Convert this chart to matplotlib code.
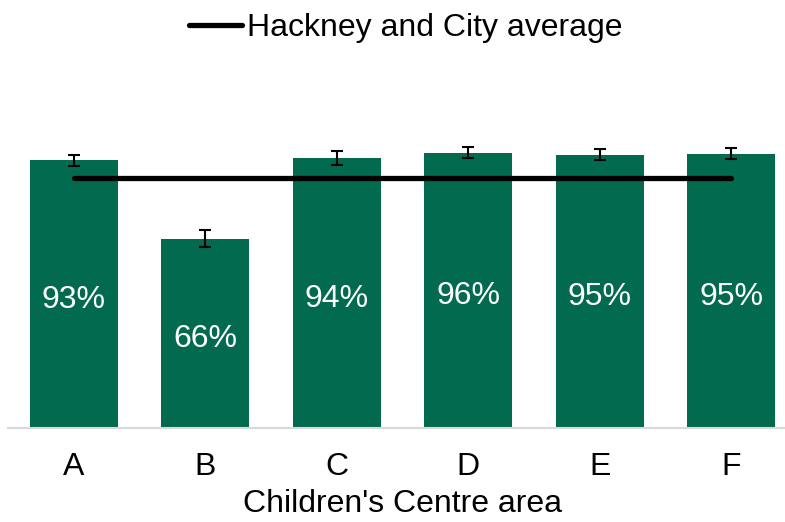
import matplotlib
matplotlib.use("Agg")
import matplotlib.pyplot as plt
from matplotlib.lines import Line2D

plt.rcParams['font.family'] = ['Liberation Sans', 'DejaVu Sans']

categories = ['A', 'B', 'C', 'D', 'E', 'F']
values = [93.0, 65.7, 93.8, 95.6, 94.9, 95.2]
labels = ['93%', '66%', '94%', '96%', '95%', '95%']
errors = [1.9, 2.9, 2.4, 1.8, 1.9, 1.9]
average = 86.7
average_label = 'Hackney and City average'
xlabel = "Children's Centre area"

W, H = 785, 522
FS = 23
fig = plt.figure(figsize=(W / 100, H / 100), dpi=100)
left_px, right_px = 8, 797
base_px = 428
px_per_unit = 2.88
ymax = 120
ax = fig.add_axes([left_px / W, (H - base_px) / H, (right_px - left_px) / W, ymax * px_per_unit / H])

green = '#026A4F'
x = list(range(len(categories)))
ax.bar(x, values, width=0.67, color=green, zorder=2)
ax.errorbar(x, values, yerr=errors, fmt='none', ecolor='black', elinewidth=1.5,
            capsize=4.3, capthick=1.5, zorder=4)
ax.plot([x[0], x[-1]], [average, average], color='black', lw=3.8,
        solid_capstyle='round', zorder=3)

for xi, v, lab in zip(x, values, labels):
    ax.annotate(lab, (xi, v / 2), xytext=(0, -9.8), textcoords='offset points',
                ha='center', va='baseline', color='white', fontsize=FS, zorder=5)

ax.set_xlim(-0.5, 5.5)
ax.set_ylim(0, ymax)
ax.set_xticks(x)
ax.set_xticklabels(categories, fontsize=FS)
ax.tick_params(axis='x', length=0, pad=17)
ax.set_yticks([])
for s in ['top', 'right', 'left']:
    ax.spines[s].set_visible(False)
ax.spines['bottom'].set_color('#d9d9d9')
ax.spines['bottom'].set_linewidth(1.5)
ax.set_xlabel(xlabel, fontsize=FS, labelpad=5.5)

handle = Line2D([], [], color='black', lw=3.8, solid_capstyle='round')
fig.legend([handle], [average_label], loc='center', bbox_to_anchor=(406 / W, 1 - 28 / H),
           frameon=False, fontsize=FS, handlelength=1.66, handletextpad=0.17, borderpad=0)

fig.savefig('out.png', dpi=100)
